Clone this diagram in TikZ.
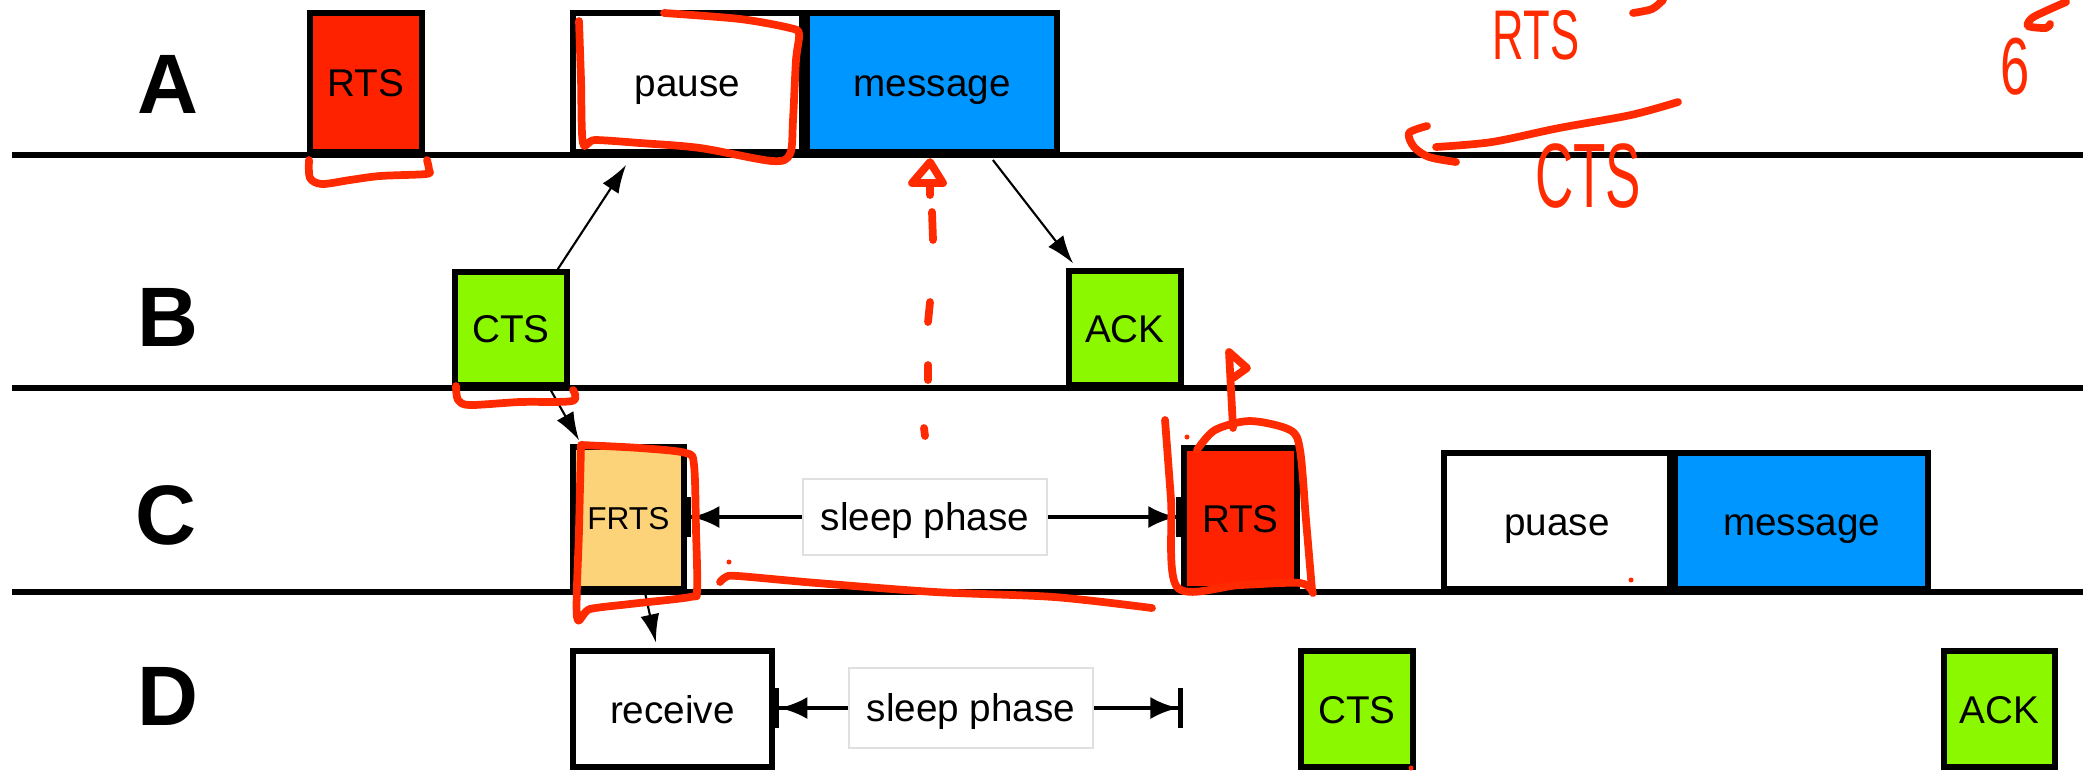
\documentclass[tikz,border=0pt]{standalone}
\usepackage{fontspec}
\setmainfont{Liberation Sans}
\usetikzlibrary{arrows.meta,positioning}
\definecolor{macRed}{HTML}{FF2200}
\definecolor{macBlue}{HTML}{0096FF}
\definecolor{macGreen}{HTML}{8CF800}
\definecolor{macSand}{HTML}{FDD37A}
\definecolor{macInk}{HTML}{FF2A00}
\tikzset{
  mac line/.style={draw=black, line width=1.6pt},
  mac box/.style={draw=black, line width=1.6pt, fill=white, inner sep=0pt, anchor=south west, font=\fontsize{11pt}{13pt}\selectfont, text height=7.9pt, text depth=0pt},
  mac short/.style={mac box, minimum width=1.12cm},
  mac phase/.style={draw=black!12, line width=0.6pt, fill=white, inner sep=0pt, minimum width=2.44cm, font=\fontsize{11pt}{13pt}\selectfont, text height=7.9pt, text depth=0pt},
  mac station/.style={font=\fontsize{24pt}{28pt}\selectfont\bfseries},
  mac msg/.style={draw=black, line width=0.6pt, -{Latex[length=2.8mm,width=1.9mm]}},
  mac sleep/.style={draw=black, line width=1.3pt, -{Latex[length=2.8mm,width=2.2mm]Bar[width=4mm]}},
  mac ink/.style={draw=macInk, line width=2.2pt, line cap=round, line join=round},
  mac ink text/.style={text=macInk, inner sep=0pt},
}
\begin{document}
\begin{tikzpicture}[x=0.01cm,y=-0.01cm]
  \useasboundingbox (0,0) rectangle (2083,775);
  \draw[mac line] (12,155) -- (2083,155);
  \draw[mac line] (12,388) -- (2083,388);
  \draw[mac line] (12,592) -- (2083,592);
  \node[mac station] (stA) at (168,84) {A};
  \node[mac station] (stB) at (168,317) {B};
  \node[mac station] (stC) at (166,515) {C};
  \node[mac station] (stD) at (168,696) {D};

  \node[mac short, fill=macRed, minimum height=1.39cm] (rtsA) at (307,155) {RTS};
  \node[mac box, minimum width=2.29cm, minimum height=1.39cm] (pauseA) at (570,155) {pause};
  \node[mac box, fill=macBlue, minimum width=2.49cm, minimum height=1.39cm, right=0pt of pauseA] (msgA) {message};

  \node[mac short, fill=macGreen, minimum height=1.13cm] (ctsB) at (452,388) {CTS};
  \node[mac short, fill=macGreen, minimum height=1.14cm] (ackB) at (1066,388) {ACK};

  \node[mac short, fill=macSand, minimum width=1.11cm, minimum height=1.42cm, font=\fontsize{9pt}{11pt}\selectfont, text height=6.5pt] (frtsC) at (570,592) {FRTS};
  \node[mac phase, minimum height=0.76cm] (sleepC) at (925,517) {sleep phase};
  \node[mac short, fill=macRed, minimum width=1.13cm, minimum height=1.41cm] (rtsC) at (1181,592) {RTS};
  \node[mac box, minimum width=2.26cm, minimum height=1.36cm] (puaseC) at (1441,592) {puase};
  \node[mac box, fill=macBlue, minimum width=2.52cm, minimum height=1.36cm, right=0pt of puaseC] (msgC) {message};

  \node[mac box, minimum width=1.99cm, minimum height=1.16cm] (recvD) at (570,770) {receive};
  \node[mac phase, minimum height=0.80cm] (sleepD) at (971,708) {sleep phase};
  \coordinate (barD) at (1183,708);
  \node[mac short, fill=macGreen, minimum height=1.16cm] (ctsD) at (1298,770) {CTS};
  \node[mac short, fill=macGreen, minimum width=1.11cm, minimum height=1.16cm] (ackD) at (1941,770) {ACK};

  \draw[mac msg] ([xshift=-0.12cm]ctsB.north east) -- ([xshift=0.56cm,yshift=-0.1cm]pauseA.south west);
  \draw[mac msg] ([xshift=1.88cm,yshift=-0.05cm]msgA.south west) -- ([xshift=0.07cm,yshift=0.05cm]ackB.north west);
  \draw[mac msg] ([xshift=-0.19cm,yshift=-0.02cm]ctsB.south east) -- ([xshift=0.09cm,yshift=0.04cm]frtsC.north west);
  \draw[mac msg] ([xshift=0.165cm]frtsC.south) -- ([xshift=-0.165cm,yshift=0.06cm]recvD.north);
  \draw[mac sleep] (sleepC.west) -- (sleepC.west -| frtsC.east);
  \draw[mac sleep] (sleepC.east) -- (sleepC.east -| rtsC.west);
  \draw[mac sleep] (sleepD.west) -- (sleepD.west -| recvD.east);
  \draw[mac sleep] (sleepD.east) -- (barD);

  \draw[mac ink] plot[smooth] coordinates {(579,21) (581,80) (583,143) (595,140) (640,143) (700,148) (772,161) (790,154) (793,120) (796,60) (799,34) (790,28) (740,19) (664,13)};
  \draw[mac ink] plot[smooth] coordinates {(309,160) (310,178) (322,184) (350,180) (380,176) (426,174) (429,170) (427,160)};
  \draw[mac ink] plot[smooth] coordinates {(456,386) (458,400) (470,405) (520,402) (572,401) (573,390)};
  \draw[mac ink] plot[smooth] coordinates {(581,445) (579,530) (577,617) (590,609) (630,604) (690,597) (697,590) (696,530) (694,465) (686,453) (640,448) (581,445)};
  \draw[mac ink] plot[smooth] coordinates {(720,582) (726,577) (738,576) (817,583) (935,592) (1054,597) (1152,608)};
  \draw[mac ink] plot[smooth] coordinates {(1165,420) (1171,500) (1177,587) (1240,585) (1300,583) (1313,593)};
  \draw[mac ink] plot[smooth] coordinates {(1312,590) (1306,520) (1300,450) (1290,430) (1250,421) (1215,430) (1197,450)};
  \draw[mac ink] (1233,428) -- (1229,352) -- (1247,368) -- (1233,378);
  \draw[mac ink] (930,162) -- (912,183) -- (943,183) -- cycle;
  \draw[mac ink] (930,183) -- (930,195);
  \draw[mac ink] (932,212) -- (933,240);
  \draw[mac ink] (930,302) -- (928,322);
  \draw[mac ink] (928,365) -- (928,380);
  \draw[mac ink] (924,428) -- (925,436);
  \fill[macInk] (729,562) circle (2.5);
  \fill[macInk] (1187,437) circle (2.5);
  \fill[macInk] (1631,580) circle (2.5);
  \fill[macInk] (1411,768) circle (2.5);
  \draw[mac ink] plot[smooth] coordinates {(1678,102) (1631,115) (1559,128) (1492,142) (1436,147)};
  \draw[mac ink] plot[smooth] coordinates {(1427,126) (1409,133) (1414,147) (1429,157) (1456,162)};
  \draw[mac ink] plot[smooth] coordinates {(1633,13) (1652,9) (1663,0)};
  \draw[mac ink] plot[smooth] coordinates {(2066,2) (2048,10) (2032,18) (2028,26) (2046,28) (2050,24)};
  \node[mac ink text, font=\fontsize{20pt}{22pt}\selectfont] (inkRts) at (1536,35) {\scalebox{0.62}[1]{RTS}};
  \node[mac ink text, font=\fontsize{26pt}{28pt}\selectfont] (inkCts) at (1588,176) {\scalebox{0.58}[1]{CTS}};
  \node[mac ink text, font=\fontsize{23pt}{25pt}\selectfont] (inkSix) at (2015,67) {\scalebox{0.65}[1]{6}};
\end{tikzpicture}
\end{document}
